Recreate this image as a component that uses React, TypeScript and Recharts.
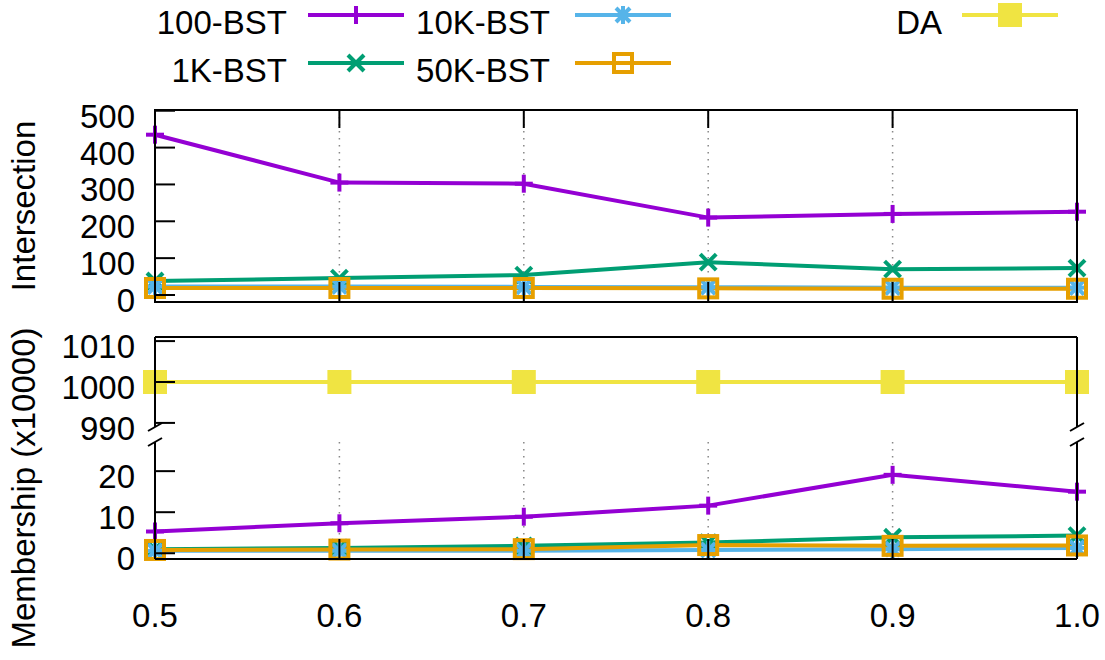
import { LineChart, Line, XAxis, YAxis, CartesianGrid } from 'recharts';

// x values (threshold)
const X_VALUES = [0.5, 0.6, 0.7, 0.8, 0.9, 1.0];

// Intersection panel
const INTER_100 = [435, 305, 302, 210, 220, 226];
const INTER_1K = [38, 46, 54, 89, 70, 73];
const INTER_10K = [23, 23, 22, 21, 20, 20];
const INTER_50K = [19, 19, 19, 18, 17, 17];

// Membership panel (x10000)
const MEMB_100 = [5.3, 7.3, 8.9, 11.6, 19.1, 15.0];
const MEMB_1K = [1.0, 1.3, 1.8, 2.6, 3.9, 4.3];
const MEMB_10K = [0.6, 0.6, 0.6, 0.8, 1.0, 1.3];
const MEMB_50K = [0.8, 0.9, 1.0, 2.0, 1.8, 1.9];
const MEMB_DA = [1000, 1000, 1000, 1000, 1000, 1000];

const INTER_TICKS = [0, 100, 200, 300, 400, 500];
const MEMB_HIGH_TICKS = [990, 1000, 1010];
const MEMB_LOW_TICKS = [0, 10, 20];

const FONT = '"Liberation Sans", Arial, Helvetica, sans-serif';
const FS = 33;

type Shape = 'plus' | 'cross' | 'star' | 'box' | 'fillbox';

const SERIES = [
  { key: 'bst100', name: '100-BST', color: '#9400D3', shape: 'plus' as Shape },
  { key: 'bst1k', name: '1K-BST', color: '#009E73', shape: 'cross' as Shape },
  { key: 'bst10k', name: '10K-BST', color: '#56B4E9', shape: 'star' as Shape },
  { key: 'bst50k', name: '50K-BST', color: '#E69F00', shape: 'box' as Shape },
  { key: 'da', name: 'DA', color: '#F0E442', shape: 'fillbox' as Shape },
];

const interData = X_VALUES.map((x, i) => ({
  x,
  bst100: INTER_100[i],
  bst1k: INTER_1K[i],
  bst10k: INTER_10K[i],
  bst50k: INTER_50K[i],
}));

const membData = X_VALUES.map((x, i) => ({
  x,
  bst100: MEMB_100[i],
  bst1k: MEMB_1K[i],
  bst10k: MEMB_10K[i],
  bst50k: MEMB_50K[i],
  da: MEMB_DA[i],
}));

// layout
const W = 1105;
const H = 660;
const PLOT_L = 155;
const PLOT_R = 1077;
const TOP_T = 110;
const TOP_B = 302;
const MHI_T = 337;
const MHI_B = 427;
const MLO_T = 442;
const MLO_B = 559;

function Marker({ cx, cy, shape, color }: { cx: number; cy: number; shape: Shape; color: string }) {
  const sw = 4;
  if (shape === 'plus') {
    return (
      <g stroke={color} strokeWidth={sw}>
        <line x1={cx - 9} x2={cx + 9} y1={cy} y2={cy} />
        <line x1={cx} x2={cx} y1={cy - 9} y2={cy + 9} />
      </g>
    );
  }
  if (shape === 'cross') {
    return (
      <g stroke={color} strokeWidth={sw}>
        <line x1={cx - 8} x2={cx + 8} y1={cy - 8} y2={cy + 8} />
        <line x1={cx - 8} x2={cx + 8} y1={cy + 8} y2={cy - 8} />
      </g>
    );
  }
  if (shape === 'star') {
    return (
      <g stroke={color} strokeWidth={sw}>
        <line x1={cx - 9} x2={cx + 9} y1={cy} y2={cy} />
        <line x1={cx} x2={cx} y1={cy - 9} y2={cy + 9} />
        <line x1={cx - 7} x2={cx + 7} y1={cy - 7} y2={cy + 7} />
        <line x1={cx - 7} x2={cx + 7} y1={cy + 7} y2={cy - 7} />
      </g>
    );
  }
  if (shape === 'box') {
    return <rect x={cx - 9} y={cy - 9} width={18} height={18} fill="none" stroke={color} strokeWidth={sw} />;
  }
  return <rect x={cx - 12} y={cy - 12} width={24} height={24} fill={color} />;
}

const makeDot = (shape: Shape, color: string) => (p: any) => {
  if (p.cx == null || p.cy == null) return <g key={p.index} />;
  return (
    <g key={p.index}>
      <Marker cx={p.cx} cy={p.cy} shape={shape} color={color} />
    </g>
  );
};

// y tick: inward tick mark + label on the left
const YTick = (p: any) => {
  const { x, y, payload } = p;
  return (
    <g>
      <line x1={x + 20} x2={x + 40} y1={y} y2={y} stroke="#000" strokeWidth={2} />
      <text x={x} y={y + 17} textAnchor="end" fontSize={FS} fontFamily={FONT} fill="#000">
        {payload.value}
      </text>
    </g>
  );
};

const TopXTick = (p: any) => {
  const { x, y } = p;
  const h = TOP_B - TOP_T;
  return (
    <g stroke="#000" strokeWidth={2}>
      <line x1={x} x2={x} y1={y} y2={y - 20} />
      <line x1={x} x2={x} y1={y - h} y2={y - h + 18} />
    </g>
  );
};

const BottomXTick = (p: any) => {
  const { x, y, payload } = p;
  return (
    <g>
      <line x1={x} x2={x} y1={y} y2={y - 20} stroke="#000" strokeWidth={2} />
      <text x={x} y={y + 68} textAnchor="middle" fontSize={FS} fontFamily={FONT} fill="#000">
        {Number(payload.value).toFixed(1)}
      </text>
    </g>
  );
};

const renderLines = (keys: string[]) =>
  SERIES.filter((s) => keys.includes(s.key)).map((s) => (
    <Line
      key={s.key}
      type="linear"
      dataKey={s.key}
      stroke={s.color}
      strokeWidth={4}
      dot={makeDot(s.shape, s.color)}
      activeDot={false}
      isAnimationActive={false}
    />
  ));

const LEGEND_ITEMS = [
  { key: 'bst100', textEnd: 287, x1: 308, x2: 404, row: 0 },
  { key: 'bst10k', textEnd: 550, x1: 575, x2: 671, row: 0 },
  { key: 'da', textEnd: 942, x1: 962, x2: 1058, row: 0 },
  { key: 'bst1k', textEnd: 287, x1: 308, x2: 404, row: 1 },
  { key: 'bst50k', textEnd: 550, x1: 575, x2: 671, row: 1 },
];

const Legend = () => (
  <svg width={W} height={100} style={{ position: 'absolute', left: 0, top: 0 }}>
    {LEGEND_ITEMS.map((it) => {
      const s = SERIES.find((d) => d.key === it.key)!;
      const ly = 15 + it.row * 48;
      const ty = 34 + it.row * 48;
      return (
        <g key={it.key}>
          <text x={it.textEnd} y={ty} textAnchor="end" fontSize={FS} fontFamily={FONT} fill="#000">
            {s.name}
          </text>
          <line x1={it.x1} x2={it.x2} y1={ly} y2={ly} stroke={s.color} strokeWidth={4} />
          <Marker cx={(it.x1 + it.x2) / 2} cy={ly} shape={s.shape} color={s.color} />
        </g>
      );
    })}
  </svg>
);

const Frame = () => {
  const slash = (x: number, y: number) => (
    <line x1={x - 7} y1={y + 4} x2={x + 7} y2={y - 4} stroke="#000" strokeWidth={2} />
  );
  return (
    <svg width={W} height={H} style={{ position: 'absolute', left: 0, top: 0, pointerEvents: 'none' }}>
      <g stroke="#000" strokeWidth={2} fill="none">
        <rect x={PLOT_L} y={TOP_T} width={PLOT_R - PLOT_L} height={TOP_B - TOP_T} />
        <line x1={PLOT_L} x2={PLOT_R} y1={MHI_T} y2={MHI_T} />
        <line x1={PLOT_L} x2={PLOT_L} y1={MHI_T} y2={MHI_B} />
        <line x1={PLOT_R} x2={PLOT_R} y1={MHI_T} y2={MHI_B} />
        <line x1={PLOT_L} x2={PLOT_R} y1={MLO_B} y2={MLO_B} />
        <line x1={PLOT_L} x2={PLOT_L} y1={MLO_T} y2={MLO_B} />
        <line x1={PLOT_R} x2={PLOT_R} y1={MLO_T} y2={MLO_B} />
      </g>
      {slash(PLOT_L, MHI_B)}
      {slash(PLOT_L, MLO_T)}
      {slash(PLOT_R, MHI_B)}
      {slash(PLOT_R, MLO_T)}
      <text
        transform={`translate(35,${(TOP_T + TOP_B) / 2}) rotate(-90)`}
        textAnchor="middle"
        fontSize={FS}
        fontFamily={FONT}
        fill="#000"
      >
        Intersection
      </text>
      <text transform="translate(35,488) rotate(-90)" textAnchor="middle" fontSize={FS} fontFamily={FONT} fill="#000">
        Membership (x10000)
      </text>
    </svg>
  );
};

const xAxisCommon = {
  dataKey: 'x',
  type: 'number' as const,
  domain: [0.5, 1.0],
  ticks: X_VALUES,
  axisLine: false,
  tickSize: 0,
  tickMargin: 0,
  interval: 0 as const,
  allowDecimals: true,
};

export default function App() {
  return (
    <div style={{ position: 'absolute', left: 0, top: 0, width: W, height: H, background: '#fff', fontFamily: FONT }}>
      <Legend />

      {/* Intersection */}
      <div style={{ position: 'absolute', left: 0, top: 0 }}>
        <LineChart width={W} height={330} data={interData} margin={{ top: TOP_T, right: W - PLOT_R, bottom: 8, left: 0 }}>
          <CartesianGrid horizontal={false} stroke="#888" strokeDasharray="1.5 5.5" strokeWidth={1.5} />
          <XAxis {...xAxisCommon} height={20} tick={TopXTick} />
          <YAxis
            type="number"
            width={PLOT_L}
            domain={[-19, 502]}
            ticks={INTER_TICKS}
            axisLine={false}
            tickSize={0}
            tickMargin={20}
            interval={0}
            tick={YTick}
          />
          {renderLines(['bst100', 'bst1k', 'bst10k', 'bst50k'])}
        </LineChart>
      </div>

      {/* Membership, upper segment */}
      <div style={{ position: 'absolute', left: 0, top: 300 }}>
        <LineChart width={W} height={150} data={membData} margin={{ top: MHI_T - 300, right: W - PLOT_R, bottom: 150 - (MHI_B - 300) - 20, left: 0 }}>
          <XAxis {...xAxisCommon} height={20} tick={false} />
          <YAxis
            type="number"
            width={PLOT_L}
            domain={[989, 1011]}
            ticks={MEMB_HIGH_TICKS}
            axisLine={false}
            tickSize={0}
            tickMargin={20}
            interval={0}
            tick={YTick}
          />
          {renderLines(['da'])}
        </LineChart>
      </div>

      {/* Membership, lower segment */}
      <div style={{ position: 'absolute', left: 0, top: 400 }}>
        <LineChart width={W} height={260} data={membData} margin={{ top: MLO_T - 400, right: W - PLOT_R, bottom: 0, left: 0 }}>
          <CartesianGrid horizontal={false} stroke="#888" strokeDasharray="1.5 5.5" strokeWidth={1.5} />
          <XAxis {...xAxisCommon} height={260 - (MLO_B - 400)} tick={BottomXTick} />
          <YAxis
            type="number"
            width={PLOT_L}
            domain={[-1.4, 27.1]}
            ticks={MEMB_LOW_TICKS}
            axisLine={false}
            tickSize={0}
            tickMargin={20}
            interval={0}
            tick={YTick}
          />
          {renderLines(['bst100', 'bst1k', 'bst10k', 'bst50k'])}
        </LineChart>
      </div>

      <Frame />
    </div>
  );
}
